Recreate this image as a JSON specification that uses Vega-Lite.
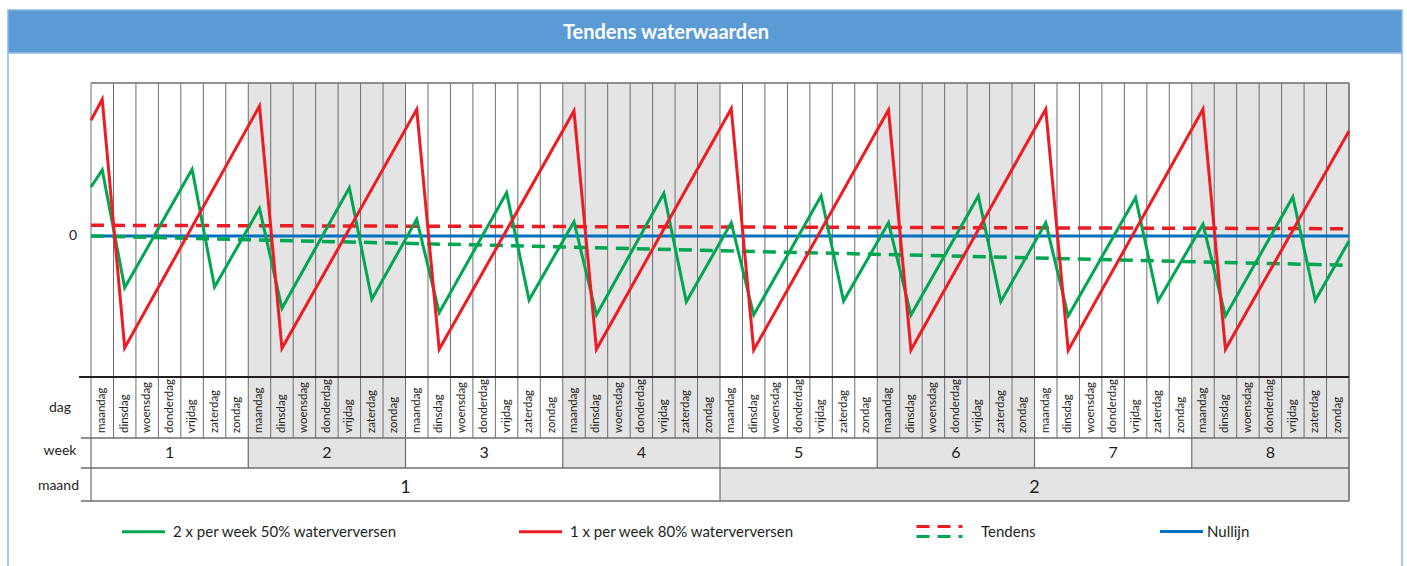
{
  "$schema": "https://vega.github.io/schema/vega-lite/v6.json",
  "background": "white",
  "padding": {"left": 7, "top": 9, "right": 6, "bottom": 0},
  "autosize": {"type": "pad"},
  "spacing": 0,
  "bounds": "flush",
  "config": {"axisX": {"disable": true}, "font": "Lato"},
  "datasets": {
    "dagen": [
      {"naam": "maandag", "week": 1, "van": 0, "midden": 0.5}, {"naam": "dinsdag", "week": 1, "van": 1, "midden": 1.5}, {"naam": "woensdag", "week": 1, "van": 2, "midden": 2.5}, {"naam": "donderdag", "week": 1, "van": 3, "midden": 3.5}, {"naam": "vrijdag", "week": 1, "van": 4, "midden": 4.5}, {"naam": "zaterdag", "week": 1, "van": 5, "midden": 5.5}, {"naam": "zondag", "week": 1, "van": 6, "midden": 6.5},
      {"naam": "maandag", "week": 2, "van": 7, "midden": 7.5}, {"naam": "dinsdag", "week": 2, "van": 8, "midden": 8.5}, {"naam": "woensdag", "week": 2, "van": 9, "midden": 9.5}, {"naam": "donderdag", "week": 2, "van": 10, "midden": 10.5}, {"naam": "vrijdag", "week": 2, "van": 11, "midden": 11.5}, {"naam": "zaterdag", "week": 2, "van": 12, "midden": 12.5}, {"naam": "zondag", "week": 2, "van": 13, "midden": 13.5},
      {"naam": "maandag", "week": 3, "van": 14, "midden": 14.5}, {"naam": "dinsdag", "week": 3, "van": 15, "midden": 15.5}, {"naam": "woensdag", "week": 3, "van": 16, "midden": 16.5}, {"naam": "donderdag", "week": 3, "van": 17, "midden": 17.5}, {"naam": "vrijdag", "week": 3, "van": 18, "midden": 18.5}, {"naam": "zaterdag", "week": 3, "van": 19, "midden": 19.5}, {"naam": "zondag", "week": 3, "van": 20, "midden": 20.5},
      {"naam": "maandag", "week": 4, "van": 21, "midden": 21.5}, {"naam": "dinsdag", "week": 4, "van": 22, "midden": 22.5}, {"naam": "woensdag", "week": 4, "van": 23, "midden": 23.5}, {"naam": "donderdag", "week": 4, "van": 24, "midden": 24.5}, {"naam": "vrijdag", "week": 4, "van": 25, "midden": 25.5}, {"naam": "zaterdag", "week": 4, "van": 26, "midden": 26.5}, {"naam": "zondag", "week": 4, "van": 27, "midden": 27.5},
      {"naam": "maandag", "week": 5, "van": 28, "midden": 28.5}, {"naam": "dinsdag", "week": 5, "van": 29, "midden": 29.5}, {"naam": "woensdag", "week": 5, "van": 30, "midden": 30.5}, {"naam": "donderdag", "week": 5, "van": 31, "midden": 31.5}, {"naam": "vrijdag", "week": 5, "van": 32, "midden": 32.5}, {"naam": "zaterdag", "week": 5, "van": 33, "midden": 33.5}, {"naam": "zondag", "week": 5, "van": 34, "midden": 34.5},
      {"naam": "maandag", "week": 6, "van": 35, "midden": 35.5}, {"naam": "dinsdag", "week": 6, "van": 36, "midden": 36.5}, {"naam": "woensdag", "week": 6, "van": 37, "midden": 37.5}, {"naam": "donderdag", "week": 6, "van": 38, "midden": 38.5}, {"naam": "vrijdag", "week": 6, "van": 39, "midden": 39.5}, {"naam": "zaterdag", "week": 6, "van": 40, "midden": 40.5}, {"naam": "zondag", "week": 6, "van": 41, "midden": 41.5},
      {"naam": "maandag", "week": 7, "van": 42, "midden": 42.5}, {"naam": "dinsdag", "week": 7, "van": 43, "midden": 43.5}, {"naam": "woensdag", "week": 7, "van": 44, "midden": 44.5}, {"naam": "donderdag", "week": 7, "van": 45, "midden": 45.5}, {"naam": "vrijdag", "week": 7, "van": 46, "midden": 46.5}, {"naam": "zaterdag", "week": 7, "van": 47, "midden": 47.5}, {"naam": "zondag", "week": 7, "van": 48, "midden": 48.5},
      {"naam": "maandag", "week": 8, "van": 49, "midden": 49.5}, {"naam": "dinsdag", "week": 8, "van": 50, "midden": 50.5}, {"naam": "woensdag", "week": 8, "van": 51, "midden": 51.5}, {"naam": "donderdag", "week": 8, "van": 52, "midden": 52.5}, {"naam": "vrijdag", "week": 8, "van": 53, "midden": 53.5}, {"naam": "zaterdag", "week": 8, "van": 54, "midden": 54.5}, {"naam": "zondag", "week": 8, "van": 55, "midden": 55.5}
    ],
    "weken": [
      {"week": 1, "van": 0, "tot": 7, "midden": 3.5}, {"week": 2, "van": 7, "tot": 14, "midden": 10.5}, {"week": 3, "van": 14, "tot": 21, "midden": 17.5}, {"week": 4, "van": 21, "tot": 28, "midden": 24.5},
      {"week": 5, "van": 28, "tot": 35, "midden": 31.5}, {"week": 6, "van": 35, "tot": 42, "midden": 38.5}, {"week": 7, "van": 42, "tot": 49, "midden": 45.5}, {"week": 8, "van": 49, "tot": 56, "midden": 52.5}
    ],
    "maanden": [
      {"maand": 1, "van": 0, "tot": 28, "midden": 14},
      {"maand": 2, "van": 28, "tot": 56, "midden": 42}
    ],
    "reeksen": [
      {"reeks": "2 x per week 50% waterverversen", "t": 0, "waarde": 4.9},
      {"reeks": "2 x per week 50% waterverversen", "t": 0.5, "waarde": 6.6},
      {"reeks": "2 x per week 50% waterverversen", "t": 1.5, "waarde": -5.17},
      {"reeks": "2 x per week 50% waterverversen", "t": 4.5, "waarde": 6.67},
      {"reeks": "2 x per week 50% waterverversen", "t": 5.5, "waarde": -5.1},
      {"reeks": "2 x per week 50% waterverversen", "t": 7.5, "waarde": 2.77},
      {"reeks": "2 x per week 50% waterverversen", "t": 8.5, "waarde": -7.23},
      {"reeks": "2 x per week 50% waterverversen", "t": 11.5, "waarde": 4.83},
      {"reeks": "2 x per week 50% waterverversen", "t": 12.5, "waarde": -6.33},
      {"reeks": "2 x per week 50% waterverversen", "t": 14.5, "waarde": 1.67},
      {"reeks": "2 x per week 50% waterverversen", "t": 15.5, "waarde": -7.67},
      {"reeks": "2 x per week 50% waterverversen", "t": 18.5, "waarde": 4.33},
      {"reeks": "2 x per week 50% waterverversen", "t": 19.5, "waarde": -6.4},
      {"reeks": "2 x per week 50% waterverversen", "t": 21.5, "waarde": 1.43},
      {"reeks": "2 x per week 50% waterverversen", "t": 22.5, "waarde": -7.9},
      {"reeks": "2 x per week 50% waterverversen", "t": 25.5, "waarde": 4.27},
      {"reeks": "2 x per week 50% waterverversen", "t": 26.5, "waarde": -6.57},
      {"reeks": "2 x per week 50% waterverversen", "t": 28.5, "waarde": 1.33},
      {"reeks": "2 x per week 50% waterverversen", "t": 29.5, "waarde": -7.9},
      {"reeks": "2 x per week 50% waterverversen", "t": 32.5, "waarde": 4.0},
      {"reeks": "2 x per week 50% waterverversen", "t": 33.5, "waarde": -6.5},
      {"reeks": "2 x per week 50% waterverversen", "t": 35.5, "waarde": 1.33},
      {"reeks": "2 x per week 50% waterverversen", "t": 36.5, "waarde": -7.9},
      {"reeks": "2 x per week 50% waterverversen", "t": 39.5, "waarde": 4.0},
      {"reeks": "2 x per week 50% waterverversen", "t": 40.5, "waarde": -6.57},
      {"reeks": "2 x per week 50% waterverversen", "t": 42.5, "waarde": 1.33},
      {"reeks": "2 x per week 50% waterverversen", "t": 43.5, "waarde": -8.0},
      {"reeks": "2 x per week 50% waterverversen", "t": 46.5, "waarde": 3.83},
      {"reeks": "2 x per week 50% waterverversen", "t": 47.5, "waarde": -6.5},
      {"reeks": "2 x per week 50% waterverversen", "t": 49.5, "waarde": 1.17},
      {"reeks": "2 x per week 50% waterverversen", "t": 50.5, "waarde": -8.0},
      {"reeks": "2 x per week 50% waterverversen", "t": 53.5, "waarde": 3.9},
      {"reeks": "2 x per week 50% waterverversen", "t": 54.5, "waarde": -6.43},
      {"reeks": "2 x per week 50% waterverversen", "t": 56, "waarde": -0.5},
      {"reeks": "1 x per week 80% waterverversen", "t": 0, "waarde": 11.57},
      {"reeks": "1 x per week 80% waterverversen", "t": 0.5, "waarde": 13.67},
      {"reeks": "1 x per week 80% waterverversen", "t": 1.5, "waarde": -11.17},
      {"reeks": "1 x per week 80% waterverversen", "t": 7.5, "waarde": 13.0},
      {"reeks": "1 x per week 80% waterverversen", "t": 8.5, "waarde": -11.23},
      {"reeks": "1 x per week 80% waterverversen", "t": 14.5, "waarde": 12.67},
      {"reeks": "1 x per week 80% waterverversen", "t": 15.5, "waarde": -11.33},
      {"reeks": "1 x per week 80% waterverversen", "t": 21.5, "waarde": 12.5},
      {"reeks": "1 x per week 80% waterverversen", "t": 22.5, "waarde": -11.33},
      {"reeks": "1 x per week 80% waterverversen", "t": 28.5, "waarde": 12.73},
      {"reeks": "1 x per week 80% waterverversen", "t": 29.5, "waarde": -11.4},
      {"reeks": "1 x per week 80% waterverversen", "t": 35.5, "waarde": 12.6},
      {"reeks": "1 x per week 80% waterverversen", "t": 36.5, "waarde": -11.4},
      {"reeks": "1 x per week 80% waterverversen", "t": 42.5, "waarde": 12.67},
      {"reeks": "1 x per week 80% waterverversen", "t": 43.5, "waarde": -11.43},
      {"reeks": "1 x per week 80% waterverversen", "t": 49.5, "waarde": 12.67},
      {"reeks": "1 x per week 80% waterverversen", "t": 50.5, "waarde": -11.33},
      {"reeks": "1 x per week 80% waterverversen", "t": 56, "waarde": 10.5}
    ],
    "tendens": [
      {"reeks": "rood", "t": 0, "waarde": 1.07},
      {"reeks": "rood", "t": 56, "waarde": 0.73},
      {"reeks": "groen", "t": 0, "waarde": 0},
      {"reeks": "groen", "t": 56, "waarde": -2.93}
    ],
    "een": [{}]
  },
  "vconcat": [
    {
      "width": 1394,
      "height": 43,
      "view": {"fill": "#5B9BD5", "stroke": "#8DB8E2", "strokeWidth": 1.5},
      "data": {"values": [{"titel": "Tendens waterwaarden"}]},
      "mark": {"type": "text", "font": "Lato", "fontSize": 20, "fontWeight": "bold", "color": "white", "dx": -39, "dy": 1},
      "encoding": {"text": {"field": "titel"}}
    },
    {
      "width": 1394,
      "height": 514,
      "view": {"fill": "white", "stroke": "#8DB8E2", "strokeWidth": 1.5},
      "layer": [
        {
          "data": {"name": "weken"},
          "transform": [{"filter": "datum.week % 2 == 0"}],
          "mark": {"type": "rect", "color": "#E4E4E4"},
          "encoding": {
            "x": {"field": "van", "type": "quantitative", "scale": {"domain": [-3.695, 58.359], "nice": false, "zero": false}},
            "x2": {"field": "tot"},
            "y": {"datum": 15.3, "type": "quantitative", "scale": {"domain": [-33.1, 18.3], "nice": false, "zero": false}, "axis": null},
            "y2": {"datum": -23.2}
          }
        },
        {
          "data": {"name": "maanden"},
          "transform": [{"filter": "datum.maand == 2"}],
          "mark": {"type": "rect", "color": "#E4E4E4"},
          "encoding": {
            "x": {"field": "van", "type": "quantitative"},
            "x2": {"field": "tot"},
            "y": {"datum": -23.2, "type": "quantitative", "axis": null},
            "y2": {"datum": -26.5}
          }
        },
        {
          "data": {"name": "dagen"},
          "mark": {"type": "rule", "color": "#6D6E71", "strokeWidth": 1},
          "encoding": {
            "x": {"field": "van", "type": "quantitative"},
            "y": {"datum": 15.3, "type": "quantitative", "axis": null},
            "y2": {"datum": -20.2}
          }
        },
        {
          "data": {"name": "weken"},
          "mark": {"type": "rule", "color": "#6D6E71", "strokeWidth": 1.2},
          "encoding": {
            "x": {"field": "van", "type": "quantitative"},
            "y": {"datum": -20.2, "type": "quantitative", "axis": null},
            "y2": {"datum": -23.2}
          }
        },
        {
          "data": {"name": "maanden"},
          "mark": {"type": "rule", "color": "#6D6E71", "strokeWidth": 1.2},
          "encoding": {
            "x": {"field": "van", "type": "quantitative"},
            "y": {"datum": -23.2, "type": "quantitative", "axis": null},
            "y2": {"datum": -26.5}
          }
        },
        {
          "data": {"name": "een"},
          "mark": {"type": "rule", "color": "#404040", "strokeWidth": 1.2},
          "encoding": {
            "x": {"datum": 56, "type": "quantitative"},
            "y": {"datum": 15.3, "type": "quantitative", "axis": null},
            "y2": {"datum": -26.5}
          }
        },
        {
          "data": {"name": "een"},
          "mark": {"type": "rule", "color": "#6D6E71", "strokeWidth": 1.5},
          "encoding": {
            "x": {"datum": 0, "type": "quantitative"},
            "x2": {"datum": 56},
            "y": {"datum": 15.3, "type": "quantitative", "axis": null}
          }
        },
        {
          "data": {"name": "een"},
          "mark": {"type": "rule", "color": "#231F20", "strokeWidth": 2},
          "encoding": {
            "x": {"datum": -0.53, "type": "quantitative"},
            "x2": {"datum": 56},
            "y": {"datum": -14.1, "type": "quantitative", "axis": null}
          }
        },
        {
          "data": {"name": "een"},
          "mark": {"type": "rule", "color": "#6D6E71", "strokeWidth": 1.5},
          "encoding": {
            "x": {"datum": -0.45, "type": "quantitative"},
            "x2": {"datum": 56},
            "y": {"datum": -20.2, "type": "quantitative", "axis": null}
          }
        },
        {
          "data": {"name": "een"},
          "mark": {"type": "rule", "color": "#6D6E71", "strokeWidth": 1.5},
          "encoding": {
            "x": {"datum": -0.45, "type": "quantitative"},
            "x2": {"datum": 56},
            "y": {"datum": -23.2, "type": "quantitative", "axis": null}
          }
        },
        {
          "data": {"name": "een"},
          "mark": {"type": "rule", "color": "#6D6E71", "strokeWidth": 1.5},
          "encoding": {
            "x": {"datum": -0.45, "type": "quantitative"},
            "x2": {"datum": 56},
            "y": {"datum": -26.5, "type": "quantitative", "axis": null}
          }
        },
        {
          "data": {"name": "een"},
          "mark": {"type": "rule", "strokeWidth": 3},
          "encoding": {
            "x": {"datum": 0, "type": "quantitative"},
            "x2": {"datum": 56},
            "y": {"datum": 0, "type": "quantitative", "axis": null},
            "stroke": {"datum": "Nullijn", "type": "nominal",
              "scale": {"domain": ["Nullijn"], "range": ["#0070C0"]},
              "legend": {"title": null, "orient": "none", "legendX": 1150, "legendY": 498, "symbolType": "stroke", "symbolSize": 1850, "symbolStrokeWidth": 3, "labelFont": "Lato", "labelFontSize": 15, "labelColor": "#231F20", "labelOffset": 2}}
          }
        },
        {
          "data": {"name": "tendens"},
          "transform": [{"filter": "false"}],
          "mark": {"type": "line", "strokeWidth": 3,
            "color": {"gradient": "linear", "x1": 0, "y1": 0, "x2": 0, "y2": 1, "stops": [{"offset": 0, "color": "#ED1C24"}, {"offset": 0.5, "color": "#ED1C24"}, {"offset": 0.5, "color": "#00A651"}, {"offset": 1, "color": "#00A651"}]}},
          "encoding": {
            "x": {"field": "t", "type": "quantitative"},
            "y": {"field": "waarde", "type": "quantitative", "axis": null},
            "strokeDash": {"datum": "Tendens", "type": "nominal",
              "scale": {"domain": ["Tendens"], "range": [[13, 8]]},
              "legend": {"title": null, "orient": "none", "legendX": 907, "legendY": 497, "symbolType": "M-1,-0.22H1M-1,0.22H1", "symbolSize": 2116, "symbolStrokeWidth": 3,
                "labelFont": "Lato", "labelFontSize": 15, "labelColor": "#231F20", "labelOffset": 17}}
          }
        },
        {
          "data": {"name": "tendens"},
          "transform": [{"filter": "datum.reeks == 'groen'"}],
          "mark": {"type": "line", "color": "#00A651", "strokeWidth": 3.5},
          "encoding": {
            "x": {"field": "t", "type": "quantitative"},
            "y": {"field": "waarde", "type": "quantitative", "axis": null},
            "strokeDash": {"datum": "Tendens", "type": "nominal"}
          }
        },
        {
          "data": {"name": "tendens"},
          "transform": [{"filter": "datum.reeks == 'rood'"}],
          "mark": {"type": "line", "color": "#ED1C24", "strokeWidth": 3.5},
          "encoding": {
            "x": {"field": "t", "type": "quantitative"},
            "y": {"field": "waarde", "type": "quantitative", "axis": null},
            "strokeDash": {"datum": "Tendens", "type": "nominal"}
          }
        },
        {
          "data": {"name": "reeksen"},
          "transform": [{"filter": "datum.reeks == '2 x per week 50% waterverversen'"}],
          "mark": {"type": "line", "strokeWidth": 3},
          "encoding": {
            "x": {"field": "t", "type": "quantitative"},
            "y": {"field": "waarde", "type": "quantitative", "axis": null},
            "color": {
              "field": "reeks", "type": "nominal",
              "scale": {"domain": ["2 x per week 50% waterverversen", "1 x per week 80% waterverversen"], "range": ["#00A651", "#ED1C24"]},
              "legend": {
                "title": null, "orient": "none", "legendX": 112, "legendY": 498, "direction": "horizontal", "columns": 2, "columnPadding": 114,
                "symbolType": "stroke", "symbolSize": 1850, "symbolStrokeWidth": 3,
                "labelFont": "Lato", "labelFontSize": 15, "labelColor": "#231F20", "labelOffset": 6, "labelLimit": 400
              }
            }
          }
        },
        {
          "data": {"name": "reeksen"},
          "transform": [{"filter": "datum.reeks == '1 x per week 80% waterverversen'"}],
          "mark": {"type": "line", "strokeWidth": 3},
          "encoding": {
            "x": {"field": "t", "type": "quantitative"},
            "y": {"field": "waarde", "type": "quantitative", "axis": null},
            "color": {"field": "reeks", "type": "nominal"}
          }
        },
        {
          "data": {"name": "dagen"},
          "mark": {"type": "text", "font": "Lato", "fontSize": 11.5, "angle": 270, "align": "left", "baseline": "middle", "color": "#231F20"},
          "encoding": {
            "x": {"field": "midden", "type": "quantitative"},
            "y": {"datum": -19.7, "type": "quantitative", "axis": null},
            "text": {"field": "naam"}
          }
        },
        {
          "data": {"name": "weken"},
          "mark": {"type": "text", "font": "Lato", "fontSize": 16, "baseline": "middle", "color": "#231F20"},
          "encoding": {
            "x": {"field": "midden", "type": "quantitative"},
            "y": {"datum": -21.7, "type": "quantitative", "axis": null},
            "text": {"field": "week"}
          }
        },
        {
          "data": {"name": "maanden"},
          "mark": {"type": "text", "font": "Lato", "fontSize": 18, "baseline": "middle", "color": "#231F20"},
          "encoding": {
            "x": {"field": "midden", "type": "quantitative"},
            "y": {"datum": -25.2, "type": "quantitative", "axis": null},
            "text": {"field": "maand"}
          }
        },
        {
          "data": {"name": "een"},
          "mark": {"type": "text", "font": "Lato", "fontSize": 14, "baseline": "middle", "color": "#231F20"},
          "encoding": {
            "x": {"datum": -0.8, "type": "quantitative"},
            "y": {"datum": 0, "type": "quantitative", "axis": null},
            "text": {"value": "0"}
          }
        },
        {
          "data": {"name": "een"},
          "mark": {"type": "text", "font": "Lato", "fontSize": 14, "baseline": "middle", "color": "#231F20"},
          "encoding": {
            "x": {"datum": -1.38, "type": "quantitative"},
            "y": {"datum": -17.2, "type": "quantitative", "axis": null},
            "text": {"value": "dag"}
          }
        },
        {
          "data": {"name": "een"},
          "mark": {"type": "text", "font": "Lato", "fontSize": 14, "baseline": "middle", "color": "#231F20"},
          "encoding": {
            "x": {"datum": -1.38, "type": "quantitative"},
            "y": {"datum": -21.5, "type": "quantitative", "axis": null},
            "text": {"value": "week"}
          }
        },
        {
          "data": {"name": "een"},
          "mark": {"type": "text", "font": "Lato", "fontSize": 14, "baseline": "middle", "color": "#231F20"},
          "encoding": {
            "x": {"datum": -1.45, "type": "quantitative"},
            "y": {"datum": -25.0, "type": "quantitative", "axis": null},
            "text": {"value": "maand"}
          }
        }
      ]
    }
  ]
}
